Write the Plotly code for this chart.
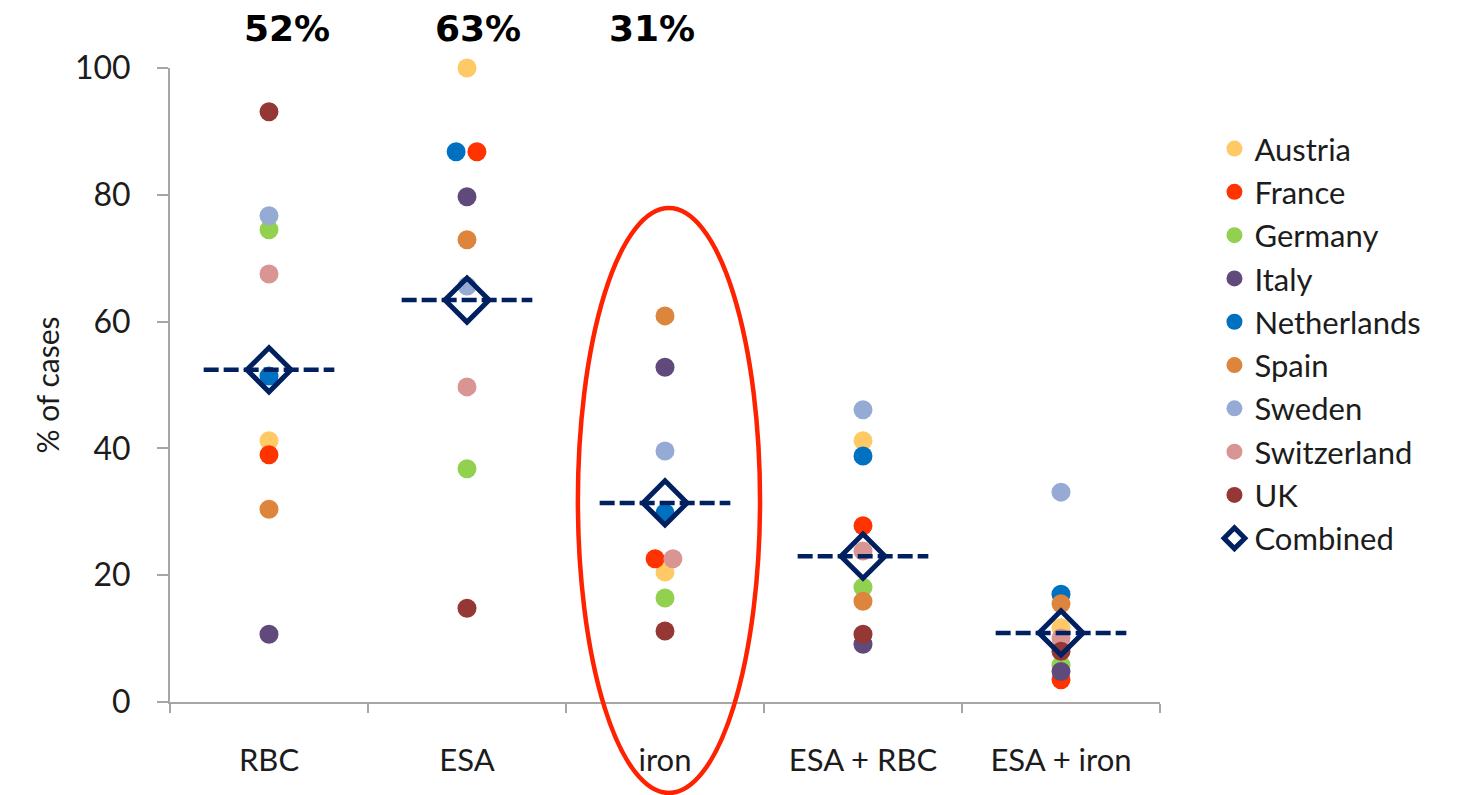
import plotly.graph_objects as go

# Treatment categories on the x axis
categories = ["RBC", "ESA", "iron", "ESA + RBC", "ESA + iron"]

# % of cases per country and treatment (same order as categories)
austria = [41.2, 100.0, 20.5, 41.2, 11.7]
france = [39.0, 86.8, 22.6, 27.8, 3.5]
germany = [74.5, 36.8, 16.4, 18.1, 5.8]
italy = [10.7, 79.7, 52.8, 9.1, 4.8]
netherlands = [51.4, 86.8, 29.8, 38.8, 17.0]
spain = [30.4, 72.9, 60.9, 15.9, 15.5]
sweden = [76.7, 65.6, 39.6, 46.1, 33.1]
switzerland = [67.5, 49.7, 22.6, 23.8, 10.1]
uk = [93.1, 14.8, 11.2, 10.7, 8.0]

# Pooled estimate across all countries
combined = [52.4, 63.4, 31.4, 23.0, 10.9]

y_ticks = [0, 20, 40, 60, 80, 100]

series = [
    ("Austria", austria, "#FFC966"),
    ("France", france, "#FF3300"),
    ("Germany", germany, "#92D050"),
    ("Italy", italy, "#604A7B"),
    ("Netherlands", netherlands, "#0070C0"),
    ("Spain", spain, "#DD843D"),
    ("Sweden", sweden, "#95ABD3"),
    ("Switzerland", switzerland, "#D99594"),
    ("UK", uk, "#953735"),
]

# small horizontal nudges so coinciding dots stay visible (category units)
nudge = {
    ("Netherlands", 1): -0.055,
    ("France", 1): 0.05,
    ("France", 2): -0.05,
    ("Switzerland", 2): 0.04,
}

FONT = "Lato"
TEXT = "#1c1c1c"
AXIS = "#A6A6A6"
NAVY = "#002060"

fig = go.Figure()

idx = list(range(len(categories)))
for name, vals, color in series:
    xs = [i + nudge.get((name, i), 0.0) for i in idx]
    fig.add_trace(go.Scatter(
        x=xs, y=vals, mode="markers", name=name,
        marker=dict(size=19, color=color, line=dict(width=0)),
        cliponaxis=False,
    ))

# dashed horizontal bar at each combined value
half = 0.33
line_x, line_y = [], []
for i, v in zip(idx, combined):
    line_x += [i - half, i + half, None]
    line_y += [v, v, None]
fig.add_trace(go.Scatter(
    x=line_x, y=line_y, mode="lines", showlegend=False, hoverinfo="skip",
    line=dict(color=NAVY, width=4.5, dash="15px,5px"),
    cliponaxis=False,
))
fig.add_trace(go.Scatter(
    x=idx, y=combined, mode="markers", name="Combined",
    marker=dict(symbol="diamond-open", size=34, color=NAVY,
                line=dict(color=NAVY, width=5)),
    cliponaxis=False,
))

# pooled percentages printed above the first three treatments
label_shift = [18, 11, -13]
for i, shift in zip(range(3), label_shift):
    fig.add_annotation(
        x=i, y=1.063, xref="x", yref="paper", xshift=shift,
        text=f"<b>{round(combined[i])}%</b>", showarrow=False,
        font=dict(family="DejaVu Sans", size=36, color="#000000"),
        yanchor="middle",
    )

# highlight ring around the iron column
fig.add_shape(
    type="circle", xref="paper", yref="paper",
    x0=0.412, x1=0.596, y0=-0.1435, y1=0.779,
    line=dict(color="#FF2200", width=4.5), layer="above",
)

fig.update_layout(
    width=1468, height=795,
    margin=dict(l=170, r=308, t=68, b=93),
    paper_bgcolor="white", plot_bgcolor="white",
    font=dict(family=FONT, color=TEXT),
    showlegend=True,
    legend=dict(
        x=1.055, xanchor="left", y=0.915, yanchor="top",
        font=dict(family=FONT, size=31, color=TEXT),
        tracegroupgap=0, itemwidth=30, bgcolor="rgba(0,0,0,0)",
    ),
)

fig.update_xaxes(
    range=[-0.5, len(categories) - 0.5],
    tickvals=idx, ticktext=categories, ticks="",
    tickfont=dict(family=FONT, size=31, color=TEXT),
    ticklabelstandoff=30,
    showline=True, linecolor=AXIS, linewidth=2,
    showgrid=False, zeroline=False,
    minor=dict(tickvals=[i - 0.5 for i in range(len(categories) + 1)],
               ticks="outside", ticklen=9, tickcolor=AXIS, tickwidth=2,
               showgrid=False),
)
fig.update_yaxes(
    range=[0, 100], tickvals=y_ticks,
    ticks="outside", ticklen=11, tickcolor=AXIS, tickwidth=2,
    tickfont=dict(family=FONT, size=32, color=TEXT),
    ticklabelstandoff=20,
    showline=True, linecolor=AXIS, linewidth=2,
    showgrid=False, zeroline=False,
    title=dict(text="% of cases", font=dict(family=FONT, size=30, color=TEXT),
               standoff=6),
)

fig.write_html("out.html")
